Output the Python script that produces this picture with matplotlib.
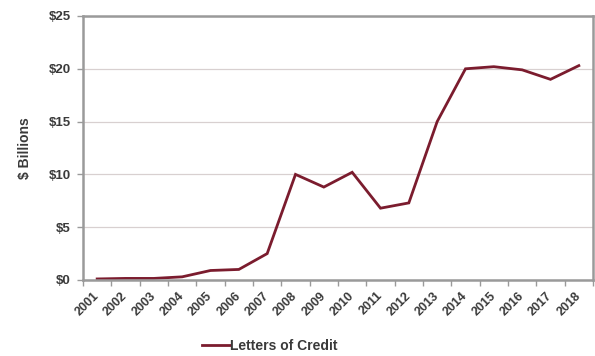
import matplotlib
matplotlib.use("Agg")
import matplotlib.pyplot as plt
from matplotlib.ticker import FuncFormatter, MultipleLocator

years = ["2001", "2002", "2003", "2004", "2005", "2006", "2007", "2008", "2009",
         "2010", "2011", "2012", "2013", "2014", "2015", "2016", "2017", "2018"]
letters_of_credit = [0.1, 0.15, 0.15, 0.3, 0.9, 1.0, 2.5, 10.0, 8.8,
                     10.2, 6.8, 7.3, 15.0, 20.0, 20.2, 19.9, 19.0, 20.3]
series_name = "Letters of Credit"
y_label = "$ Billions"

plt.rcParams["font.family"] = ["Liberation Sans", "DejaVu Sans"]
plt.rcParams["font.weight"] = "bold"

line_color = "#7b1c2e"
frame_color = "#9a9a9a"
text_color = "#3a3a3a"

fig = plt.figure(figsize=(5.95, 3.56), dpi=100)
ax = fig.add_axes([83 / 595, 1 - 280 / 356, 510 / 595, 264 / 356])

x = list(range(len(years)))
ax.plot(x, letters_of_credit, color=line_color, lw=2.0, label=series_name,
        solid_joinstyle="miter")

ax.set_xlim(-0.5, len(years) - 0.5)
ax.set_ylim(0, 25)
ax.yaxis.set_major_locator(MultipleLocator(5))
ax.yaxis.set_major_formatter(FuncFormatter(lambda v, p: f"${v:.0f}"))
ax.grid(axis="y", color="#d8d0d0", lw=0.9)
ax.set_axisbelow(True)

ax.set_xticks(x)
ax.set_xticklabels(years, rotation=45, ha="right", va="center",
                   rotation_mode="anchor", fontsize=9, color=text_color,
                   fontweight="bold")
ax.set_xticks([i - 0.5 for i in range(len(years) + 1)], minor=True)
ax.tick_params(axis="x", which="major", length=0, pad=10)
ax.tick_params(axis="x", which="minor", length=4, color=frame_color, width=1)
ax.tick_params(axis="y", length=4, color=frame_color, width=1,
               labelsize=9.5, labelcolor=text_color, pad=5)

for side in ax.spines.values():
    side.set_color(frame_color)
    side.set_linewidth(1.8)

ax.set_ylabel(y_label, fontsize=10, color=text_color, fontweight="bold", labelpad=12)

leg = fig.legend(loc="center", bbox_to_anchor=(270 / 595, 1 - 346 / 356),
                 frameon=False, fontsize=10, handlelength=2.0, handletextpad=0.0)
for t in leg.get_texts():
    t.set_color(text_color)

fig.savefig("out.png", dpi=100)
